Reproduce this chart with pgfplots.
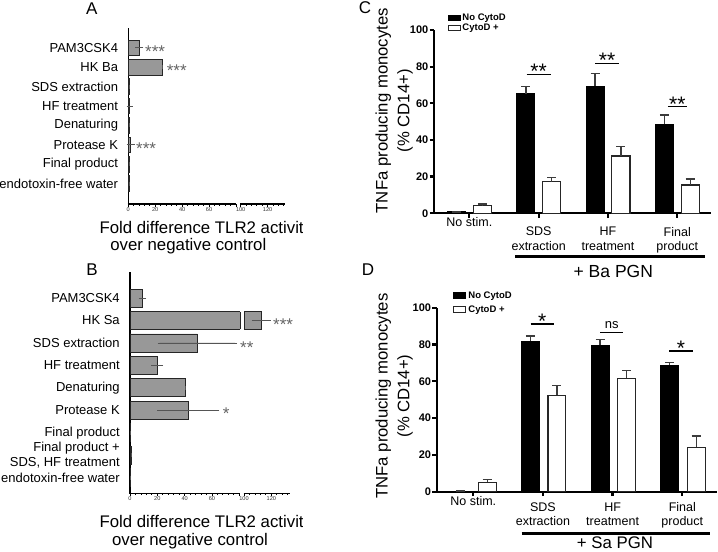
\documentclass[border=0pt]{standalone}
\usepackage{pgfplots}
\pgfplotsset{compat=1.18}
\usepackage{fontspec}
\setmainfont{Liberation Sans}
\definecolor{bargray}{RGB}{152,152,152}
\definecolor{errgray}{RGB}{85,85,85}
\definecolor{errdark}{RGB}{60,60,60}
\definecolor{stargray}{RGB}{100,100,100}
\newcommand{\fs}[2]{\fontsize{#1bp}{#2bp}\selectfont}
\pgfplotsset{
 sqlegend/.style={legend image code/.code={\draw[##1, line width=1bp] (0bp,-2.7bp) rectangle (12bp,2.7bp);}},
 tlrstyle/.style={
  scale only axis, clip=false,
  axis x line*=bottom, axis y line*=left,
  x axis line style={draw=none},
  y axis line style={-, line width=1.4bp, black},
  tick align=outside, major tick length=2.6bp, minor tick length=1.8bp,
  every tick/.style={black, line width=0.8bp},
  y tick style={draw=none},
  xtick={0,20,40,60,80,83.5,103.5}, xticklabels={0,20,40,60,,100,120},
  minor xtick={4,8,12,16,24,28,32,36,44,48,52,56,64,68,72,76,87.5,91.5,95.5,99.5,107.5,111.5,115.5},
  xticklabel style={font=\fs{5.6}{6.5}, text=black!80, inner sep=0.6bp},
  yticklabel style={font=\fs{13}{14.3}, align=right, inner sep=0pt, xshift=-7.5bp},
 },
 tlrbar/.style={xbar, bar width=0.8, bar shift=0pt, fill=bargray, draw=black!85, line width=0.8bp,
   error bars/.cd, x dir=both, x explicit, error bar style={line width=0.7bp, errgray}, error mark options={mark size=2bp, line width=0.7bp, errgray}},
 cdstyle/.style={
  scale only axis, clip=false,
  axis x line*=bottom, axis y line*=left,
  axis line style={-, line width=2.3bp, black},
  tick align=outside, major tick length=4.5bp,
  every tick/.style={black, line width=2.3bp},
  ymin=0, ymax=100, ytick={0,20,...,100},
  xtick={0,1,2,3},
  /pgf/number format/assume math mode=true,
  yticklabel style={font=\bfseries\fs{11}{12}, inner sep=1bp},
  xticklabel style={font=\fs{12.5}{14.5}, align=center, anchor=north, inner sep=0pt},
  legend style={draw=none, fill=none, anchor=north west, inner sep=0pt, font=\bfseries\fs{9.5}{10}, cells={anchor=west}},
  legend cell align=left,
  ylabel style={align=center, font=\fs{16.7}{21.7}, anchor=center},
 },
 blackbar/.style={ybar, bar width=#1, bar shift=0pt, fill=black, draw=black, line width=1bp, sqlegend,
   error bars/.cd, y dir=plus, y explicit, error bar style={line width=1.4bp, errdark}, error mark options={rotate=90, mark size=4.5bp, line width=1.4bp, errdark}},
 whitebar/.style={ybar, bar width=#1, bar shift=0pt, fill=white, draw=black!85, line width=1.2bp, sqlegend,
   error bars/.cd, y dir=plus, y explicit, error bar style={line width=1.4bp, errdark}, error mark options={rotate=90, mark size=4.5bp, line width=1.4bp, errdark}},
}
\begin{document}
\begin{tikzpicture}
\useasboundingbox (0,0) rectangle (718bp,-552bp);

% ---------------- Panel A ----------------
\begin{axis}[tlrstyle, at={(128.3bp,-204bp)}, anchor=south west,
  width=156.8bp, height=176bp, xmin=0, xmax=116.5, ymin=-0.05, ymax=9.02,
  ytick={1,...,8},
  yticklabels={endotoxin-free water, Final product, Protease K, Denaturing, HF treatment, SDS extraction, HK Ba, PAM3CSK4}]
\addplot[tlrbar] coordinates {
 (8.2,8) +- (1.5,0)
 (25.3,7) +- (0,0)
 (1.0,6) +- (0,0)
 (1.1,5) +- (0.9,0)
 (1.0,4) +- (0,0)
 (1.8,3) +- (1.5,0)
 (0.8,2) +- (0,0)
 (0.9,1) +- (0,0)
};
\draw[line width=1.4bp] (axis cs:-0.5,-0.05) -- (axis cs:80.3,-0.05);
\draw[line width=1.4bp] (axis cs:83.2,-0.05) -- (axis cs:116.5,-0.05);
\node[anchor=base west, font=\fs{17}{20}, text=stargray, inner sep=0pt, yshift=-9.5bp] at (axis cs:12.4,8) {***};
\node[anchor=base west, font=\fs{17}{20}, text=stargray, inner sep=0pt, yshift=-9.5bp] at (axis cs:28.5,7) {***};
\node[anchor=base west, font=\fs{17}{20}, text=stargray, inner sep=0pt, yshift=-9.5bp] at (axis cs:5.7,3) {***};
\end{axis}

% ---------------- Panel B ----------------
\begin{axis}[tlrstyle, at={(130bp,-493.3bp)}, anchor=south west,
  width=159.8bp, height=221.3bp, xmin=0, xmax=117, ymin=0.305, ymax=10.16,
  ytick={1,...,9},
  yticklabels={endotoxin-free water, {Final product +\\SDS, HF treatment}, Final product, Protease K, Denaturing, HF treatment, SDS extraction, HK Sa, PAM3CSK4}]
\addplot[tlrbar] coordinates {
 (9.0,9) +- (1.3,0)
 (96,8) +- (5.5,0)
 (49.3,7) +- (27.7,0)
 (20,6) +- (2.8,0)
 (40.3,5) +- (0,0)
 (42.7,4) +- (21.2,0)
 (0.5,3) +- (0,0)
 (0.8,2) +- (0,0)
 (0.5,1) +- (0,0)
};
\fill[white] (axis cs:80.9,7.55) rectangle (axis cs:83.4,8.45);
\draw[black!85, line width=0.8bp] (axis cs:80.9,7.6) -- (axis cs:80.9,8.4) (axis cs:83.4,7.6) -- (axis cs:83.4,8.4);
\draw[line width=1.4bp] (axis cs:-0.5,0.305) -- (axis cs:80.3,0.305);
\draw[line width=1.4bp] (axis cs:83.2,0.305) -- (axis cs:117,0.305);
\node[anchor=base west, font=\fs{17}{20}, text=stargray, inner sep=0pt, yshift=-9.5bp] at (axis cs:104.7,8) {***};
\node[anchor=base west, font=\fs{17}{20}, text=stargray, inner sep=0pt, yshift=-9.5bp] at (axis cs:80.5,6.95) {**};
\node[anchor=base west, font=\fs{17}{20}, text=stargray, inner sep=0pt, yshift=-9.5bp] at (axis cs:67.9,4) {*};
\end{axis}

% ---------------- Panel C ----------------
\begin{axis}[cdstyle, at={(434bp,-213.3bp)}, anchor=south west,
  width=277bp, height=183.3bp, xmin=-0.51, xmax=3.487,
  xticklabels={{\raisebox{10bp}[0.72em][0.21em]{No stim.}}, {SDS\\extraction}, {HF\\treatment}, {Final\\product}},
  xticklabel style={yshift=-9bp},
  ylabel={TNFa producing monocytes\\(\% CD14+)},
  ylabel style={at={(axis description cs:-0.144,0.56)}},
  legend style={at={(axis description cs:0.048,1.099)}, row sep=-2bp}]
\addplot[blackbar=0.263] coordinates {(-0.185,0.8) +- (0,0) (0.815,65.1) +- (0,4.0) (1.815,69.4) +- (0,7.0) (2.815,48.5) +- (0,5.1)};
\addplot[whitebar=0.263] coordinates {(0.187,4.1) +- (0,1.0) (1.187,17.2) +- (0,2.2) (2.187,31.3) +- (0,5.1) (3.187,15.4) +- (0,3.3)};
\legend{No CytoD, CytoD +}
\draw[line width=1.5bp] (axis cs:0.828,75.8) -- (axis cs:1.175,75.8);
\draw[line width=1.5bp] (axis cs:1.814,81.8) -- (axis cs:2.16,81.8);
\draw[line width=1.5bp] (axis cs:2.863,58.2) -- (axis cs:3.146,58.2);
\node[anchor=base, font=\fs{21}{24}, inner sep=0pt, yshift=-11.8bp] at (axis cs:1.0,79.9) {**};
\node[anchor=base, font=\fs{21}{24}, inner sep=0pt, yshift=-11.8bp] at (axis cs:1.987,85.8) {**};
\node[anchor=base, font=\fs{21}{24}, inner sep=0pt, yshift=-11.8bp] at (axis cs:3.0,61.8) {**};
\end{axis}

% ---------------- Panel D ----------------
\begin{axis}[cdstyle, at={(436.7bp,-491.7bp)}, anchor=south west,
  width=280.3bp, height=184bp, xmin=-0.525, xmax=3.498,
  xticklabels={{\raisebox{5.5bp}[0.72em][0.21em]{No stim.}}, {SDS\\extraction}, {HF\\treatment}, {Final\\product}},
  xticklabel style={yshift=-6bp},
  ylabel={TNFa producing monocytes\\(\% CD14+)},
  ylabel style={at={(axis description cs:-0.152,0.52)}},
  legend style={at={(axis description cs:0.059,1.1)}, row sep=2bp}]
\addplot[blackbar=0.258] coordinates {(-0.18,0.3) +- (0,0) (0.82,81.9) +- (0,2.7) (1.82,79.7) +- (0,3.1) (2.82,68.8) +- (0,1.5)};
\addplot[whitebar=0.258] coordinates {(0.2,5.1) +- (0,1.6) (1.2,52.5) +- (0,5.1) (2.2,61.6) +- (0,4.2) (3.2,24.1) +- (0,6.2)};
\legend{No CytoD, CytoD +}
\draw[line width=1.5bp] (axis cs:0.824,91.1) -- (axis cs:1.158,91.1);
\draw[line width=1.5bp] (axis cs:1.819,86.6) -- (axis cs:2.153,86.6);
\draw[line width=1.5bp] (axis cs:2.813,76.5) -- (axis cs:3.149,76.5);
\node[anchor=base, font=\fs{21}{24}, inner sep=0pt, yshift=-11.8bp] at (axis cs:0.991,95.1) {*};
\node[anchor=base, font=\fs{13}{15}, inner sep=0pt] at (axis cs:1.986,88.75) {ns};
\node[anchor=base, font=\fs{21}{24}, inner sep=0pt, yshift=-11.8bp] at (axis cs:2.98,80.7) {*};
\end{axis}

% ---------------- annotations ----------------
\begin{scope}
\clip (0,-205bp) rectangle (302bp,-245bp);
\node[anchor=base west, font=\fs{16.8}{20}, inner sep=0pt] at (99.3bp,-233.3bp) {Fold difference TLR2 activity};
\end{scope}
\node[anchor=base, font=\fs{16.8}{20}, inner sep=0pt] at (188.3bp,-250.7bp) {over negative control};
\begin{scope}
\clip (0,-505bp) rectangle (302bp,-535bp);
\node[anchor=base west, font=\fs{16.8}{20}, inner sep=0pt] at (99.3bp,-527bp) {Fold difference TLR2 activity};
\end{scope}
\node[anchor=base, font=\fs{16.8}{20}, inner sep=0pt] at (190bp,-545bp) {over negative control};

\node[font=\fs{17}{20}] at (91.7bp,-9bp) {A};
\node[font=\fs{17}{20}] at (92bp,-270bp) {B};
\node[font=\fs{17}{20}] at (365bp,-8bp) {C};
\node[font=\fs{17}{20}] at (368bp,-270bp) {D};

\draw[line width=2.7bp] (515bp,-256.7bp) -- (705bp,-256.7bp);
\node[font=\fs{17.5}{20}, inner sep=0pt] at (613.3bp,-271.7bp) {+ Ba PGN};
\draw[line width=2.7bp] (521.7bp,-533.3bp) -- (710bp,-533.3bp);
\node[font=\fs{16.8}{20}, inner sep=0pt] at (615bp,-542.6bp) {+ Sa PGN};
\end{tikzpicture}
\end{document}
